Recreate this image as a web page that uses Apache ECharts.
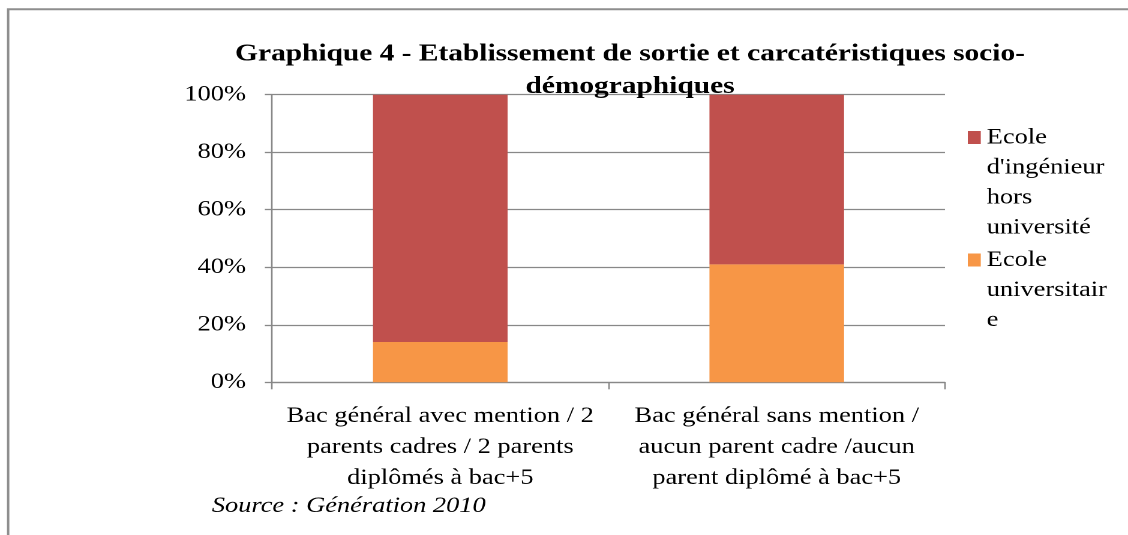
<!DOCTYPE html>
<html>
<head>
<meta charset="utf-8">
<script src="https://cdn.jsdelivr.net/npm/echarts@6/dist/echarts.min.js"></script>
<style>
html, body { margin: 0; padding: 0; background: #fff; overflow: hidden; }
/* the source picture is stretched sideways by 1.2, so draw at 940 wide and stretch */
#chart { width: 940px; height: 535px; transform: scaleX(1.2); transform-origin: 0 0; }
</style>
</head>
<body>
<div id="chart"></div>
<script>
var titleText = 'Graphique 4 - Etablissement de sortie et carcatéristiques socio-\ndémographiques';
var sourceText = 'Source : Génération 2010';

var categories = [
    'Bac général avec mention / 2\nparents cadres / 2 parents\ndiplômés à bac+5',
    'Bac général sans mention /\naucun parent cadre /aucun\nparent diplômé à bac+5'
];
var seriesNames = ["Ecole d'ingénieur hors université", 'Ecole universitaire'];
var legendLines = [["Ecole", "d'ingénieur", "hors", "université"], ['Ecole', 'universitair', 'e']];

// parts in %
var ecoleIngenieur = [86, 59];
var ecoleUniversitaire = [14, 41];

var FONT = 'Liberation Serif, Times New Roman, serif';
var GRAY = '#888888';

// legend icon sits in the middle of the text block, so pad with empty lines
// on top to keep the square next to the first line
function legendName(name) {
    var lines = legendLines[seriesNames.indexOf(name)];
    var pad = '';
    for (var i = 1; i < lines.length; i++) pad += '\n';
    return pad + lines.join('\n');
}

var chart = echarts.init(document.getElementById('chart'), null, {renderer: 'canvas', devicePixelRatio: 2});
chart.setOption({
    animation: false,
    backgroundColor: '#fff',
    graphic: [{
        type: 'rect',
        silent: true,
        shape: {x: 6.8, y: 9.3, width: 2000, height: 2000},
        style: {fill: 'none', stroke: '#8e8e8e', lineWidth: 2}
    }, {
        type: 'text',
        silent: true,
        left: 176.5,
        top: 495,
        style: {text: sourceText, font: 'italic 22px ' + FONT, fill: '#000'}
    }],
    title: {
        text: titleText,
        left: 525,
        top: 38,
        padding: 0,
        textAlign: 'center',
        textVerticalAlign: 'top',
        textStyle: {fontFamily: FONT, fontSize: 24.5, fontWeight: 'bold', color: '#000', lineHeight: 32.6}
    },
    legend: [{
        data: [seriesNames[0]],
        orient: 'vertical',
        left: 806.5,
        top: 32.5,
        padding: 0,
        icon: 'rect',
        itemWidth: 10.8,
        itemHeight: 13,
        formatter: legendName,
        textStyle: {fontFamily: FONT, fontSize: 22, color: '#000', lineHeight: 30}
    }, {
        data: [seriesNames[1]],
        orient: 'vertical',
        left: 806.5,
        top: 185,
        padding: 0,
        icon: 'rect',
        itemWidth: 10.8,
        itemHeight: 13,
        formatter: legendName,
        textStyle: {fontFamily: FONT, fontSize: 22, color: '#000', lineHeight: 30}
    }],
    grid: {left: 226.7, right: 152.5, top: 94.7, bottom: 152.7},
    xAxis: {
        type: 'category',
        data: categories,
        axisLine: {lineStyle: {color: GRAY, width: 1.3}},
        axisTick: {show: true, length: 7, lineStyle: {color: GRAY, width: 1.3}},
        axisLabel: {interval: 0, margin: 18.5, fontFamily: FONT, fontSize: 22, color: '#000', lineHeight: 31}
    },
    yAxis: {
        type: 'value',
        min: 0,
        max: 100,
        interval: 20,
        axisLine: {show: true, lineStyle: {color: GRAY, width: 1.3}},
        axisTick: {show: true, length: 6, lineStyle: {color: GRAY, width: 1.3}},
        splitLine: {lineStyle: {color: GRAY, width: 1.3}},
        axisLabel: {formatter: '{value}%', margin: 21.7, fontFamily: FONT, fontSize: 22, color: '#000'}
    },
    series: [{
        name: seriesNames[1],
        type: 'bar',
        stack: 'total',
        barCategoryGap: '60%',
        itemStyle: {color: '#F79646'},
        data: ecoleUniversitaire
    }, {
        name: seriesNames[0],
        type: 'bar',
        stack: 'total',
        barCategoryGap: '60%',
        itemStyle: {color: '#C0504D'},
        data: ecoleIngenieur
    }]
});
</script>
</body>
</html>
